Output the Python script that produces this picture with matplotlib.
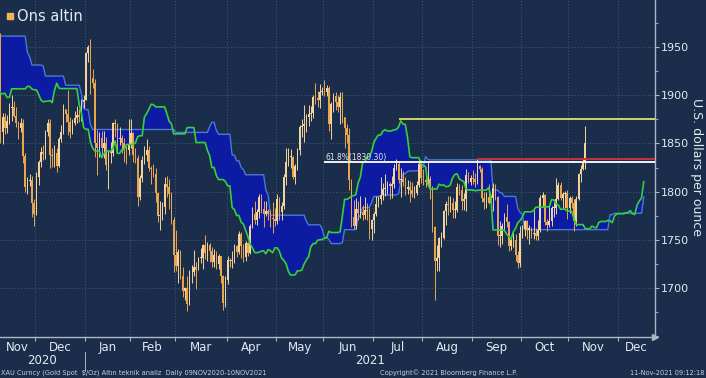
import numpy as np
import pandas as pd
import matplotlib
matplotlib.use("Agg")
import matplotlib.pyplot as plt
import matplotlib.transforms as mtransforms
from matplotlib.ticker import MultipleLocator

# ---- data -------------------------------------------------------------
# daily high/low before the visible window (only feeds the ichimoku cloud)
pre_high = [1822, 1843, 1872, 1898, 1905, 1945, 1981, 1971, 1970, 1984,
            1994, 2021, 2055, 2070, 2075, 2041, 2032, 1949, 1958, 1963, 1990, 2015, 2013, 1950, 1947, 1960, 1932, 1957, 1976, 1968, 1983,
            1992, 1972, 1952, 1945, 1939, 1934, 1951, 1965, 1953, 1960, 1965, 1973, 1962, 1960, 1955, 1914, 1904, 1874, 1870, 1881, 1899, 1897,
            1912, 1918, 1919, 1920, 1894, 1899, 1933, 1933, 1923, 1909, 1911, 1913, 1912, 1917, 1932, 1925, 1910, 1912, 1911, 1911, 1880, 1889,
            1897, 1911, 1917, 1950, 1965]
pre_low = [1802, 1815, 1837, 1860, 1875, 1901, 1927, 1943, 1940, 1955,
           1960, 1968, 2015, 2032, 2015, 2005, 1863, 1874, 1909, 1935, 1939, 1980, 1930, 1913, 1911, 1924, 1902, 1904, 1911, 1918, 1956,
           1960, 1932, 1917, 1905, 1923, 1906, 1923, 1942, 1936, 1936, 1950, 1951, 1931, 1942, 1882, 1893, 1855, 1848, 1850, 1851, 1874, 1873,
           1882, 1883, 1897, 1874, 1873, 1883, 1893, 1917, 1883, 1888, 1890, 1896, 1898, 1899, 1900, 1895, 1899, 1891, 1899, 1868, 1860, 1862,
           1873, 1886, 1880, 1900, 1936]

# XAU daily candles 09NOV2020 - 10NOV2021
first_open = 1951
close = [1862, 1877, 1866, 1873, 1887, 1888, 1879, 1871, 1866, 1871, 1837, 1805, 1811, 1812, 1788, 1777,
         1815, 1831, 1841, 1839, 1862, 1871, 1838, 1837, 1840, 1827, 1855, 1862, 1886, 1881, 1872, 1862, 1871, 1876, 1880, 1877, 1893, 1895,
         1944, 1950, 1918, 1913, 1850, 1845, 1856, 1845, 1851, 1828, 1840, 1840, 1871, 1870, 1855, 1856, 1850, 1844, 1843, 1848,
         1861, 1838, 1835, 1794, 1814, 1833, 1838, 1843, 1825, 1823, 1818, 1799, 1775, 1775, 1784, 1808, 1805, 1797, 1770, 1734,
         1723, 1737, 1712, 1697, 1700, 1683, 1716, 1716, 1722, 1719, 1731, 1731, 1745, 1736, 1745, 1738, 1727, 1734, 1725, 1733, 1712, 1684, 1708,
         1729, 1728, 1729, 1743, 1737, 1756, 1744, 1732, 1747, 1736, 1764, 1777, 1770, 1779, 1794, 1782, 1777, 1780, 1777, 1773, 1772, 1769,
         1792, 1779, 1785, 1815, 1831, 1836, 1836, 1815, 1827, 1843, 1867, 1868, 1870, 1877, 1881, 1882, 1898, 1897, 1895, 1903, 1905,
         1903, 1908, 1870, 1891, 1899, 1893, 1888, 1898, 1877, 1866, 1859, 1812, 1774, 1764, 1782, 1778, 1779, 1776, 1781, 1780, 1761, 1770,
         1777, 1787, 1792, 1796, 1803, 1803, 1808, 1806, 1808, 1825, 1829, 1812, 1813, 1810, 1803, 1805, 1802, 1797, 1799, 1807, 1829, 1814,
         1812, 1810, 1813, 1804, 1763, 1728, 1731, 1752, 1752, 1780, 1787, 1786, 1788, 1781, 1781, 1805, 1802, 1790, 1792, 1817, 1810, 1814,
         1813, 1810, 1827, 1823, 1793, 1789, 1794, 1788, 1793, 1804, 1794, 1754, 1754, 1764, 1774, 1768, 1743, 1750, 1750, 1734, 1726, 1757,
         1761, 1769, 1760, 1762, 1756, 1757, 1754, 1760, 1793, 1796, 1768, 1765, 1769, 1783, 1783, 1792, 1807, 1793, 1798, 1799, 1783,
         1793, 1788, 1769, 1792, 1818, 1824, 1830, 1850]
high = [1965, 1882, 1882, 1880, 1892, 1900, 1894, 1888, 1873, 1876, 1875, 1840, 1815, 1818, 1816, 1792,
        1820, 1833, 1846, 1848, 1864, 1875, 1875, 1845, 1848, 1845, 1857, 1869, 1891, 1886, 1906, 1877, 1875, 1884, 1889, 1886, 1896, 1900,
        1945, 1952, 1959, 1927, 1917, 1864, 1862, 1863, 1863, 1857, 1843, 1852, 1872, 1875, 1871, 1867, 1859, 1856, 1847, 1875,
        1875, 1862, 1845, 1838, 1817, 1837, 1847, 1855, 1847, 1827, 1829, 1825, 1800, 1790, 1789, 1815, 1816, 1813, 1800, 1774,
        1760, 1740, 1739, 1722, 1701, 1712, 1719, 1724, 1739, 1727, 1732, 1741, 1746, 1755, 1748, 1747, 1742, 1740, 1738, 1735, 1732, 1713, 1712,
        1733, 1731, 1738, 1746, 1745, 1759, 1758, 1746, 1749, 1748, 1766, 1784, 1790, 1782, 1797, 1798, 1790, 1790, 1782, 1781, 1789, 1783,
        1798, 1794, 1789, 1818, 1845, 1845, 1844, 1837, 1829, 1845, 1869, 1875, 1890, 1881, 1890, 1889, 1900, 1913, 1905, 1912, 1909,
        1916, 1911, 1910, 1893, 1902, 1903, 1900, 1903, 1903, 1878, 1870, 1866, 1813, 1791, 1793, 1790, 1795, 1786, 1794, 1788, 1783, 1772,
        1779, 1795, 1795, 1815, 1809, 1818, 1811, 1810, 1816, 1829, 1834, 1831, 1825, 1821, 1815, 1812, 1811, 1810, 1806, 1811, 1832, 1833,
        1823, 1815, 1832, 1816, 1806, 1764, 1745, 1753, 1758, 1781, 1790, 1795, 1795, 1793, 1790, 1809, 1808, 1807, 1799, 1823, 1820, 1817,
        1822, 1819, 1834, 1828, 1826, 1800, 1800, 1808, 1796, 1809, 1808, 1795, 1769, 1767, 1778, 1787, 1769, 1753, 1758, 1756, 1738, 1764,
        1765, 1770, 1770, 1765, 1763, 1781, 1762, 1770, 1796, 1800, 1797, 1772, 1785, 1785, 1789, 1814, 1810, 1810, 1800, 1801, 1802,
        1795, 1795, 1792, 1795, 1819, 1828, 1834, 1868]
low = [1850, 1849, 1860, 1861, 1870, 1873, 1877, 1867, 1855, 1862, 1830, 1800, 1797, 1806, 1774, 1764,
       1776, 1807, 1826, 1833, 1834, 1858, 1825, 1826, 1826, 1820, 1826, 1852, 1860, 1872, 1859, 1856, 1860, 1869, 1871, 1872, 1873, 1887,
       1895, 1935, 1901, 1908, 1836, 1817, 1836, 1839, 1835, 1822, 1803, 1830, 1837, 1857, 1841, 1848, 1840, 1831, 1829, 1838,
       1845, 1831, 1830, 1785, 1791, 1810, 1829, 1832, 1821, 1808, 1815, 1789, 1768, 1760, 1770, 1777, 1794, 1782, 1766, 1717,
       1718, 1705, 1709, 1691, 1687, 1676, 1682, 1705, 1712, 1699, 1719, 1726, 1720, 1730, 1728, 1727, 1722, 1722, 1720, 1720, 1705, 1677, 1680,
       1704, 1722, 1721, 1726, 1732, 1735, 1731, 1727, 1728, 1733, 1735, 1762, 1766, 1765, 1773, 1778, 1763, 1775, 1771, 1763, 1757, 1764,
       1766, 1770, 1771, 1782, 1807, 1827, 1825, 1813, 1808, 1822, 1838, 1857, 1852, 1862, 1868, 1873, 1876, 1891, 1888, 1887, 1900,
       1899, 1899, 1863, 1855, 1883, 1885, 1883, 1870, 1871, 1845, 1851, 1802, 1763, 1761, 1761, 1770, 1773, 1770, 1772, 1771, 1751, 1750,
       1757, 1775, 1784, 1787, 1791, 1795, 1797, 1792, 1793, 1804, 1822, 1809, 1794, 1806, 1796, 1798, 1789, 1794, 1793, 1796, 1805, 1809,
       1807, 1805, 1806, 1792, 1758, 1687, 1718, 1718, 1742, 1751, 1765, 1776, 1779, 1773, 1773, 1779, 1796, 1781, 1781, 1780, 1809, 1807,
       1808, 1805, 1808, 1820, 1789, 1782, 1783, 1787, 1786, 1780, 1791, 1745, 1742, 1746, 1760, 1763, 1738, 1739, 1742, 1728, 1721, 1722,
       1752, 1754, 1751, 1746, 1752, 1751, 1750, 1750, 1758, 1785, 1765, 1759, 1763, 1764, 1774, 1777, 1791, 1791, 1783, 1783, 1772,
       1778, 1783, 1759, 1764, 1791, 1810, 1822, 1823]

# horizontal levels drawn on the chart
level_values = [1875.0, 1830.30, 1834.0]
level_starts = ["2021-07-16", "2021-06-01", "2021-09-03"]
level_colors = ["#d4d46a", "#f2f2f2", "#c8323c"]

# ---- dates / positions -----------------------------------------------
pre_dates = pd.bdate_range("2020-07-20", "2020-11-06")
main_dates = pd.bdate_range("2020-11-09", "2021-11-10").drop(
    [pd.Timestamp("2020-12-25"), pd.Timestamp("2021-01-01")])
future = pd.bdate_range("2021-11-11", periods=45)
all_dates = pre_dates.append(main_dates).append(future)
n_pre = len(pre_dates)
n_main = len(main_dates)

close = np.array(close, float)
high = np.array(high, float)
low = np.array(low, float)
opens = np.r_[first_open, close[:-1]]
xs = np.arange(n_pre, n_pre + n_main)

# ichimoku cloud (9/26/52, leading spans shifted 26)
H = pd.Series(np.r_[pre_high, high])
L = pd.Series(np.r_[pre_low, low])
tenkan = (H.rolling(9).max() + L.rolling(9).min()) / 2
kijun = (H.rolling(26).max() + L.rolling(26).min()) / 2
span_a = ((tenkan + kijun) / 2).values
span_b = ((H.rolling(52).max() + L.rolling(52).min()) / 2).values
xc = np.arange(len(H)) + 26

# ---- style ------------------------------------------------------------
bg = "#1a2e4b"
txt = "#e3e9f0"
spine = "#aab6c4"
plt.rcParams["font.family"] = ["DejaVu Sans"]

fig = plt.figure(figsize=(7.06, 3.78), dpi=100, facecolor=bg)
ax = fig.add_axes([0, 41 / 378, 655 / 706, 337 / 378], facecolor=bg)

x0 = n_pre - 0.2
x1 = n_pre + n_main - 1 + 31
ax.set_xlim(x0, x1)
ax.set_ylim(1649, 1999)

ax.fill_between(xc, span_a, span_b, color="#0d1ba2", lw=0, zorder=1)
ax.plot(xc, span_b, color="#4a78d2", lw=1.0, zorder=2)

up = close >= opens
body_lo = np.minimum(opens, close)
body_h = np.maximum(np.abs(close - opens), 0.8)
cols = np.where(up, "#f4d49c", "#eaa64c")
ax.vlines(xs, low, high, color=cols, lw=0.7, zorder=3)
ax.bar(xs, body_h, bottom=body_lo, width=0.7, color=cols, lw=0, zorder=3)

ax.plot(xc, span_a, color="#36d03a", lw=1.2, zorder=4)

for v, s, c in zip(level_values, level_starts, level_colors):
    xs0 = all_dates.get_loc(pd.Timestamp(s))
    ax.hlines(v, xs0, x1, color=c, lw=1.4, zorder=5)
wx = all_dates.get_loc(pd.Timestamp(level_starts[1]))
ax.text(wx + 0.5, level_values[1] + 0.8, "61.8%(1830.30)", color=txt,
        fontsize=5.5, va="bottom", ha="left", zorder=6)

# month grid / labels
months = all_dates.to_period("M")
bounds = [i for i in range(1, len(all_dates)) if months[i] != months[i - 1]]
edges = [b - 0.5 for b in bounds if x0 < b - 0.5 < x1]
ax.set_xticks(edges)
ax.set_xticklabels([])
ax.set_yticks([1700, 1750, 1800, 1850, 1900, 1950])
ax.yaxis.set_minor_locator(MultipleLocator(25))
ax.grid(True, which="major", color="#435b7c", ls=(0, (1, 2)), lw=0.7)
ax.set_axisbelow(True)

trans = mtransforms.blended_transform_factory(ax.transData, ax.transAxes)
seg = [x0] + edges + [x1]
for a, b in zip(seg[:-1], seg[1:]):
    mid_i = int(np.clip(round((a + b) / 2), 0, len(all_dates) - 1))
    ax.text((a + b) / 2, -0.03, all_dates[mid_i].strftime("%b"), transform=trans,
            ha="center", va="center", color=txt, fontsize=8.5)

jan = [b - 0.5 for b in bounds if all_dates[b].month == 1 and x0 < b < x1][0]
ax.text((x0 + jan) / 2, -0.07, "2020", transform=trans, ha="center", va="center",
        color=txt, fontsize=8.5)
ax.text((jan + x1) / 2, -0.07, "2021", transform=trans, ha="center", va="center",
        color=txt, fontsize=8.5)
ax.plot([jan, jan], [-0.045, -0.1], transform=trans, color=spine, lw=0.7, clip_on=False)

# axes cosmetics
for s in ["left", "top"]:
    ax.spines[s].set_visible(False)
for s in ["right", "bottom"]:
    ax.spines[s].set_color(spine)
    ax.spines[s].set_linewidth(1.0)
ax.yaxis.tick_right()
ax.tick_params(axis="y", which="major", colors=spine, labelcolor=txt, labelsize=8,
               length=3, pad=1.5)
ax.tick_params(axis="y", which="minor", colors=spine, length=2)
ax.tick_params(axis="x", colors=spine, length=3)
ax.plot([1], [0], marker=">", ms=4, color=spine, transform=ax.transAxes, clip_on=False)

# legend + labels
ax.plot([0.0153], [0.9525], marker="s", ms=5, color="#f0b45a", transform=ax.transAxes,
        clip_on=False, zorder=7)
ax.text(0.026, 0.9525, "Ons altin", transform=ax.transAxes, color=txt, fontsize=10.5,
        va="center", ha="left", zorder=7)
fig.text(697 / 706, 1 - 167 / 378, "U.S. dollars per ounce", rotation=270, color=txt,
         fontsize=9, ha="center", va="center")

foot = "#c6cfd9"
fig.text(0.002, 0.014, "XAU Curncy (Gold Spot  $/Oz) Altın teknik analiz  Daily 09NOV2020-10NOV2021",
         color=foot, fontsize=4.8, va="center", ha="left")
fig.text(0.538, 0.014, "Copyright© 2021 Bloomberg Finance L.P.", color=foot, fontsize=4.8,
         va="center", ha="left")
fig.text(0.998, 0.014, "11-Nov-2021 09:12:18", color=foot, fontsize=4.8, va="center", ha="right")

fig.savefig("out.png", dpi=100, facecolor=bg)
